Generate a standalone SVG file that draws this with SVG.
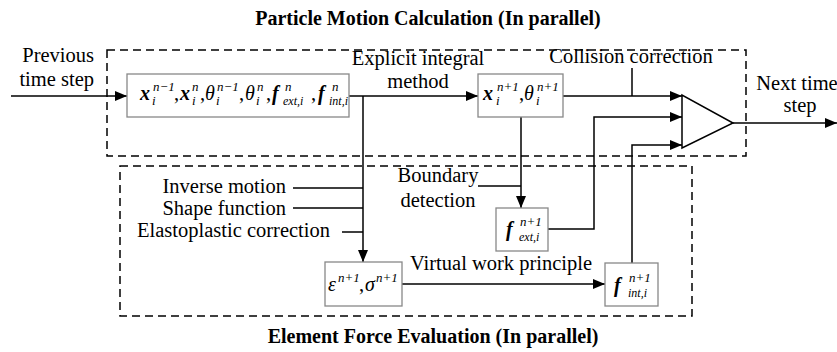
<svg xmlns="http://www.w3.org/2000/svg" width="837" height="352" viewBox="0 0 837 352" font-family="Liberation Serif, Times New Roman, serif">
<style>
.lbl{font-size:20.5px}
.ttl{font-size:20px;font-weight:bold}
.m{font-size:20px;font-style:italic}
.b{font-weight:bold}
.s{font-size:13px;font-style:italic}
.ss{font-size:12px;font-style:italic}
.box{fill:#fff;stroke:#888;stroke-width:1.3}
.dash{fill:none;stroke:#000;stroke-width:1.5;stroke-dasharray:8 5}
.ln{fill:none;stroke:#000;stroke-width:1.5}
</style>
<defs>
<marker id="ah" viewBox="0 0 12 10" refX="12" refY="5" markerWidth="12" markerHeight="10" markerUnits="userSpaceOnUse" orient="auto">
<path d="M0,0 L12,5 L0,10 Z" fill="#000"/>
</marker>
</defs>

<g id="groups">
<rect class="dash" x="107" y="50" width="639" height="106"/>
<rect class="dash" x="120" y="166" width="572" height="150"/>
<text class="ttl" x="428" y="25" text-anchor="middle">Particle Motion Calculation (In parallel)</text>
<text class="ttl" x="433" y="343" text-anchor="middle">Element Force Evaluation (In parallel)</text>
</g>

<g id="connectors">
<path class="ln" d="M11,96 H127" marker-end="url(#ah)"/>
<path class="ln" d="M349,96 H478" marker-end="url(#ah)"/>
<path class="ln" d="M363,96 V262" marker-end="url(#ah)"/>
<path class="ln" d="M293,188 H363 M293,208 H363 M342,232 H363"/>
<path class="ln" d="M563,96 H682" marker-end="url(#ah)"/>
<path class="ln" d="M632,68 V96"/>
<path class="ln" d="M521,117 V208" marker-end="url(#ah)"/>
<path class="ln" d="M478,186 H521"/>
<path class="ln" d="M548,229 H594 V117 H682" marker-end="url(#ah)"/>
<path class="ln" d="M402,284 H605" marker-end="url(#ah)"/>
<path class="ln" d="M632,263 V145 H682" marker-end="url(#ah)"/>
<path class="ln" d="M733,123 H837" marker-end="url(#ah)"/>
</g>

<g id="labels">
<text class="lbl" x="94" y="62" text-anchor="end">Previous</text>
<text class="lbl" x="94" y="86" text-anchor="end">time step</text>
<text class="lbl" x="418" y="65" text-anchor="middle">Explicit integral</text>
<text class="lbl" x="418" y="88" text-anchor="middle">method</text>
<text class="lbl" x="631" y="63" text-anchor="middle">Collision correction</text>
<text class="lbl" x="797" y="90" text-anchor="middle">Next time</text>
<text class="lbl" x="800" y="112" text-anchor="middle">step</text>
<text class="lbl" x="286" y="193" text-anchor="end">Inverse motion</text>
<text class="lbl" x="286" y="215" text-anchor="end">Shape function</text>
<text class="lbl" x="330" y="237" text-anchor="end">Elastoplastic correction</text>
<text class="lbl" x="438" y="182" text-anchor="middle">Boundary</text>
<text class="lbl" x="438" y="207" text-anchor="middle">detection</text>
<text class="lbl" x="410" y="270">Virtual work principle</text>
</g>

<g id="state-n">
<rect class="box" x="127" y="74" width="222" height="43"/>
<text class="m b" x="140" y="100">x</text><text class="s" x="153" y="91">n−1</text><text class="s" x="152" y="105">i</text>
<text class="lbl" x="174" y="100">,</text>
<text class="m b" x="180" y="100">x</text><text class="s" x="192" y="91">n</text><text class="s" x="192" y="105">i</text>
<text class="lbl" x="200" y="100">,</text>
<text class="m" x="205" y="100">θ</text><text class="s" x="217" y="91">n−1</text><text class="s" x="216" y="105">i</text>
<text class="lbl" x="239" y="100">,</text>
<text class="m" x="245" y="100">θ</text><text class="s" x="257" y="91">n</text><text class="s" x="256" y="105">i</text>
<text class="lbl" x="266" y="100">,</text>
<text class="m b" x="272" y="100">f</text><text class="s" x="285" y="91">n</text><text class="ss" x="283" y="105">ext,i</text>
<text class="lbl" x="311" y="100">,</text>
<text class="m b" x="318" y="100">f</text><text class="s" x="332" y="91">n</text><text class="ss" x="329" y="105">int,i</text>
</g>

<g id="state-n1">
<rect class="box" x="478" y="74" width="85" height="43"/>
<text class="m b" x="483" y="100">x</text><text class="s" x="497" y="91">n+1</text><text class="s" x="496" y="105">i</text>
<text class="lbl" x="519" y="100">,</text>
<text class="m" x="524" y="100">θ</text><text class="s" x="537" y="91">n+1</text><text class="s" x="536" y="105">i</text>
</g>

<g id="strain-stress">
<rect class="box" x="325" y="262" width="77" height="44"/>
<text class="m" x="328" y="291">ε</text><text class="s" x="338" y="282">n+1</text>
<text class="lbl" x="359" y="291">,</text>
<text class="m" x="365" y="291">σ</text><text class="s" x="376" y="282">n+1</text>
</g>

<g id="f-ext">
<rect class="box" x="496" y="208" width="52" height="43"/>
<text class="m b" x="506" y="236">f</text><text class="s" x="520" y="226">n+1</text><text class="ss" x="519" y="241">ext,i</text>
</g>

<g id="f-int">
<rect class="box" x="605" y="263" width="53" height="43"/>
<text class="m b" x="614" y="292">f</text><text class="s" x="629" y="282">n+1</text><text class="ss" x="628" y="297">int,i</text>
</g>

<g id="summation">
<path d="M682,95 L682,148 L733,123 Z" fill="#fff" stroke="#000" stroke-width="1.5"/>
</g>
</svg>
